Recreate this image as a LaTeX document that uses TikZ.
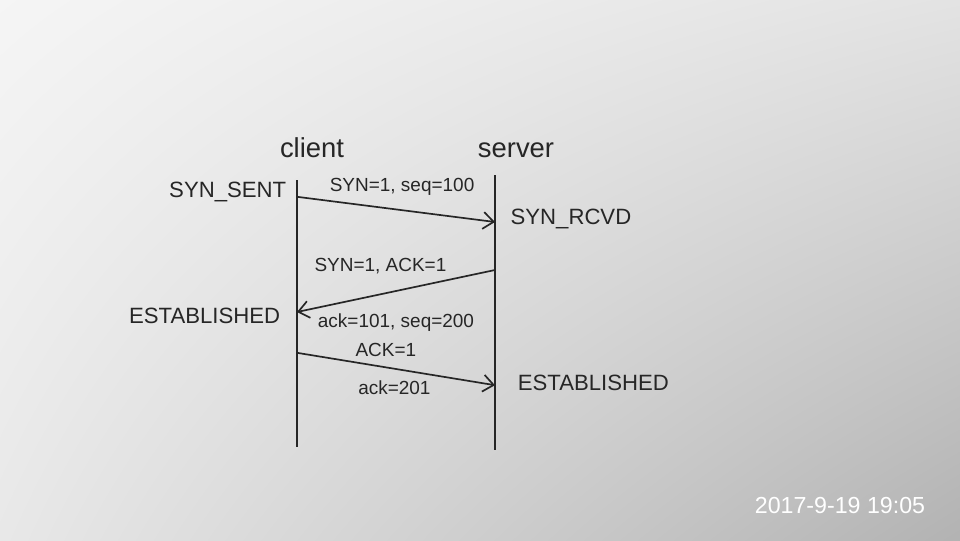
\documentclass[tikz,border=0pt]{standalone}
\usepackage{fontspec}
\setmainfont{Liberation Sans}
\usetikzlibrary{quotes,positioning,shadings,arrows.meta}

\begin{document}
\begin{tikzpicture}[line width=0.8pt, color=black!85, font=\fontsize{10.5}{12}\selectfont,
  >={Straight Barb[length=5pt,width=8pt]}]
\useasboundingbox (0,0) rectangle (16,9);
\shade[upper left=gray!8, upper right=gray!22, lower left=gray!18, lower right=gray!60] (0,0) rectangle (16,9);
% lifelines
\node[font=\fontsize{13}{15}\selectfont] (client) at (5.2,6.53) {client};
\node[font=\fontsize{13}{15}\selectfont] (server) at (8.6,6.5) {server};
\coordinate (c0) at (4.95,6.0);
\coordinate (c1) at (4.95,1.55);
\coordinate (s0) at (8.25,6.08);
\coordinate (s1) at (8.25,1.5);
\draw (c0) -- (c1);
\draw (s0) -- (s1);
% handshake
\coordinate (a1) at (4.95,5.72);
\coordinate (b1) at (8.25,5.3);
\coordinate (a2) at (8.25,4.5);
\coordinate (b2) at (4.95,3.8);
\coordinate (a3) at (4.95,3.12);
\coordinate (b3) at (8.25,2.58);
\begin{scope}[every node/.style={font=\fontsize{9}{11}\selectfont, inner sep=2pt}]
\draw[->] (a1) to node[pos=0.14, anchor=south west] {SYN=1, seq=100} (b1);
\draw[->] (a2) to node[pos=0.22, anchor=south east] {SYN=1, ACK=1}
                  node[pos=0.92, anchor=north west] {ack=101, seq=200} (b2);
\draw[->] (a3) to node[pos=0.27, anchor=south west] {ACK=1}
                  node[pos=0.7, anchor=north east] {ack=201} (b3);
\end{scope}
% states
\node[anchor=east] (sent) at (4.9,5.8) {SYN\_SENT};
\node[anchor=west] (rcvd) at (8.38,5.35) {SYN\_RCVD};
\node[anchor=east] (estc) at (4.8,3.73) {ESTABLISHED};
\node[anchor=west] (ests) at (8.5,2.62) {ESTABLISHED};
\node[white, font=\fontsize{11}{13}\selectfont] (stamp) at (14.0,0.57) {2017-9-19 19:05};
\end{tikzpicture}
\end{document}
